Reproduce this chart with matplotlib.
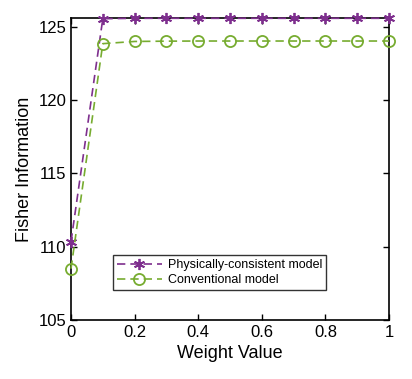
import matplotlib
matplotlib.use("Agg")
import matplotlib.pyplot as plt

weights = [0, 0.1, 0.2, 0.3, 0.4, 0.5, 0.6, 0.7, 0.8, 0.9, 1.0]
physically = [110.35, 125.55, 125.58, 125.58, 125.58, 125.58, 125.58, 125.58, 125.58, 125.58, 125.58]
conventional = [108.5, 123.85, 124.0, 124.02, 124.03, 124.03, 124.03, 124.03, 124.03, 124.03, 124.03]
labels = ["Physically-consistent model", "Conventional model"]

plt.rcParams['font.family'] = ['Liberation Sans', 'DejaVu Sans']
fig = plt.figure(figsize=(4.12, 3.79), dpi=100)
ax = fig.add_axes([71/412, 1-320/379, (389-71)/412, (320-18)/379])

ax.plot(weights, physically, linestyle='--', dashes=(5, 3), color='#7E2F8E',
        marker=(6, 2, 0), markersize=8, markeredgewidth=1.3, linewidth=1.2,
        label=labels[0], clip_on=False, zorder=3)
ax.plot(weights, conventional, linestyle='--', dashes=(5, 3), color='#77AC30',
        marker='o', markersize=8, markerfacecolor='none', markeredgewidth=1.3,
        linewidth=1.2, label=labels[1], clip_on=False, zorder=3)

ax.set_xlim(0, 1)
ax.set_ylim(105, 125.6)
ax.set_xticks([0, 0.2, 0.4, 0.6, 0.8, 1])
ax.set_xticklabels(['0', '0.2', '0.4', '0.6', '0.8', '1'])
ax.set_yticks([105, 110, 115, 120, 125])
ax.tick_params(direction='in', top=True, right=True, labelsize=12, length=4, width=1)
for s in ax.spines.values():
    s.set_linewidth(1.2)
ax.set_xlabel('Weight Value', fontsize=13)
ax.set_ylabel('Fisher Information', fontsize=13)

leg = ax.legend(loc='lower left', bbox_to_anchor=((113-71)/318, (320-290)/302),
                fontsize=9, frameon=True, fancybox=False, edgecolor='black',
                borderpad=0.3, handlelength=3.6, handletextpad=0.5,
                labelspacing=0.25, borderaxespad=0)
leg.get_frame().set_linewidth(1.0)

fig.savefig('out.png', dpi=100)
